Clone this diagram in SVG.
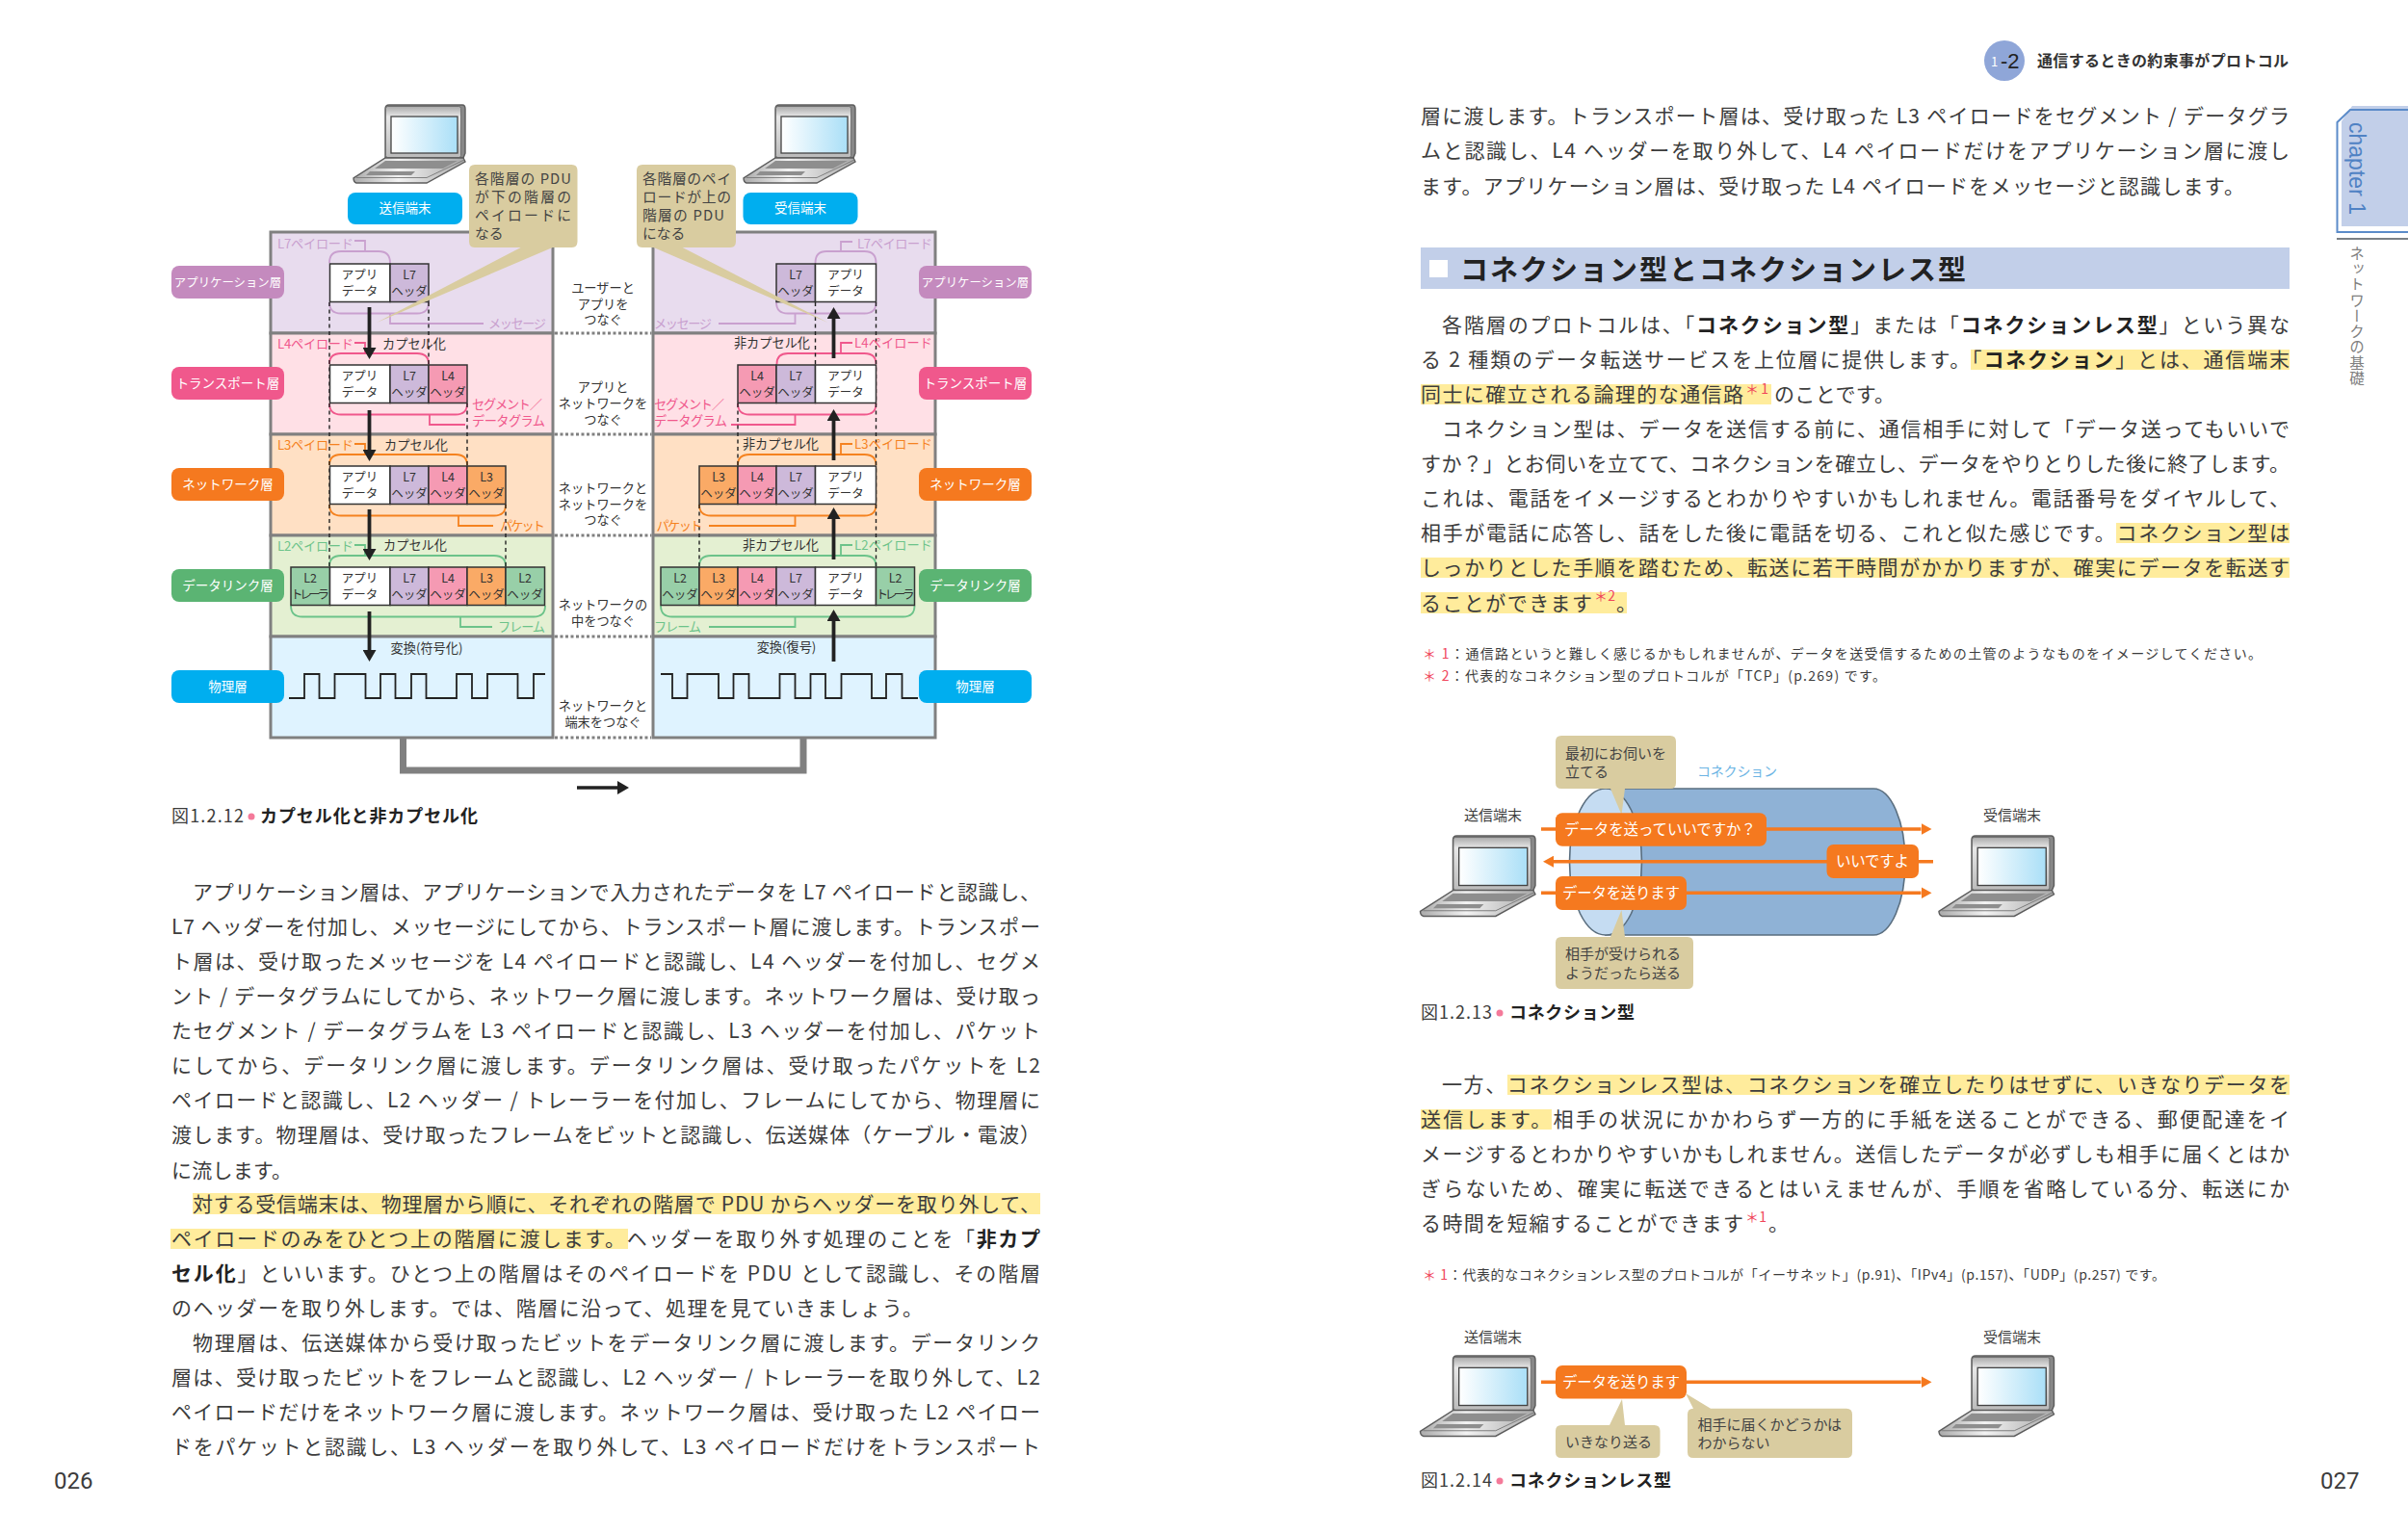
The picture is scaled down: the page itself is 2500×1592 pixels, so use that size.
<svg xmlns="http://www.w3.org/2000/svg" xmlns:xlink="http://www.w3.org/1999/xlink" width="2500" height="1592" viewBox="0 0 2500 1592">
<style>
text{font-family:"Noto Sans CJK JP","Noto Sans",sans-serif;fill:#3c3c3c}
.b{font-size:21px}
.s{font-weight:700;fill:#222}
.r{fill:#f0455a}
.sup{font-size:14px;fill:#f0455a}
.hl{fill:#ffec9c}
.fn{font-size:14px}
.cap{font-size:18px}
.capb{font-size:18px;font-weight:700;fill:#222}
.dot{fill:#f47a9a}
.pg{font-family:Roboto,"Noto Sans",sans-serif;font-size:24px;font-weight:400}
.panel{stroke:#808080;stroke-width:3}
.lab{font-size:13.5px;fill:#fff;text-anchor:middle}
.c{font-size:12.5px;text-anchor:middle;fill:#333}
.m{font-size:13.2px;text-anchor:middle;fill:#333}
.t{font-size:13.2px}
.cell{stroke:#333;stroke-width:1.5}
.dat{fill:#fff}.l7{fill:#cdb9da}.l4{fill:#f59ab3}.l3{fill:#faaa66}.l2{fill:#98cfa8}
.br{fill:none;stroke-width:1.8}
.pu{stroke:#c9a0cf}.pi{stroke:#f0588c}.or{stroke:#f5821f}.gr{stroke:#6cc38a}
.tpu{fill:#c9a0cf}.tpi{fill:#f0588c}.tor{fill:#f5821f}.tgr{fill:#6cc38a}
.da{fill:none;stroke:#222;stroke-width:1.4;stroke-dasharray:4 3.5}
.ar{fill:none;stroke:#222;stroke-width:3.8;marker-end:url(#ah)}
.dv{stroke:#808080;stroke-width:3;stroke-dasharray:3 2.5}
.tan{fill:#d9cca0}
.ct{font-size:15px;fill:#444}
.tc{font-size:14.8px;fill:#444}
.oar{fill:none;stroke:#f5791f;stroke-width:3.5;marker-end:url(#oh)}
.ob{fill:#f5791f}
.ot{font-size:15.5px;fill:#fff}
.wave{fill:none;stroke:#222;stroke-width:1.8}
</style>
<defs>
<marker id="ah" markerUnits="userSpaceOnUse" markerWidth="12" markerHeight="14" refX="0" refY="7" viewBox="0 0 12 14" orient="auto"><polygon points="0,0 12,7 0,14" fill="#222"/></marker>
<marker id="oh" markerUnits="userSpaceOnUse" markerWidth="11" markerHeight="12" refX="0" refY="6" viewBox="0 0 11 12" orient="auto"><polygon points="0,0 11,6 0,12" fill="#f5791f"/></marker>
<linearGradient id="scr" x1="0" x2="1" y1="0" y2="0"><stop offset="0" stop-color="#fff"/><stop offset="1" stop-color="#aadff7"/></linearGradient>
<linearGradient id="lid" x1="0" x2="0" y1="0" y2="1"><stop offset="0" stop-color="#aaa"/><stop offset=".2" stop-color="#e8e8e8"/><stop offset="1" stop-color="#bbb"/></linearGradient>
<linearGradient id="bas" x1="0" x2="1" y1="0" y2="0"><stop offset="0" stop-color="#aaa"/><stop offset=".4" stop-color="#f2f2f2"/><stop offset="1" stop-color="#a8a8a8"/></linearGradient>
<g id="laptop">
<path d="M33,4 Q33,0 37,0 H113 Q116,0 116,4 V50 L114,55 H33 Z" fill="#888" stroke="#5c5c5c" stroke-width="1.4"/>
<rect x="33.5" y="1.5" width="78" height="53" rx="2" fill="url(#lid)" stroke="#666" stroke-width=".8"/>
<rect x="39" y="12" width="69" height="38" fill="url(#scr)" stroke="#444" stroke-width="1.3"/>
<path d="M33,55 H114 L116,59 L76,81 H3 Q0,80 0,76 Z" fill="url(#bas)" stroke="#5c5c5c" stroke-width="1.4"/>
<path d="M33,58 H108 L93,66 H22 Z M17,69 H64 L60,73 H13 Z" fill="#8e8e8e"/>
<path d="M3,75.500 H76 L115,57" fill="none" stroke="#777" stroke-width=".9"/>
</g>
</defs>
<rect width="2500" height="1592" fill="#fff"/>

<g id="page-026-highlight">
<rect class="hl" x="200" y="1239" width="880" height="22"/>
<rect class="hl" x="177" y="1276" width="475" height="21"/>
</g>
<g id="page-026-text">
<text class="b" x="200" y="934" textLength="880">アプリケーション層は、アプリケーションで入力されたデータを L7 ペイロードと認識し、</text>
<text class="b" x="178" y="970" textLength="902">L7 ヘッダーを付加し、メッセージにしてから、トランスポート層に渡します。トランスポー</text>
<text class="b" x="178" y="1006" textLength="902">ト層は、受け取ったメッセージを L4 ペイロードと認識し、L4 ヘッダーを付加し、セグメ</text>
<text class="b" x="178" y="1042" textLength="902">ント / データグラムにしてから、ネットワーク層に渡します。ネットワーク層は、受け取っ</text>
<text class="b" x="178" y="1078" textLength="902">たセグメント / データグラムを L3 ペイロードと認識し、L3 ヘッダーを付加し、パケット</text>
<text class="b" x="178" y="1114" textLength="902">にしてから、データリンク層に渡します。データリンク層は、受け取ったパケットを L2</text>
<text class="b" x="178" y="1150" textLength="902">ペイロードと認識し、L2 ヘッダー / トレーラーを付加し、フレームにしてから、物理層に</text>
<text class="b" x="178" y="1186" textLength="902">渡します。物理層は、受け取ったフレームをビットと認識し、伝送媒体（ケーブル・電波）</text>
<text class="b" x="178" y="1222.500" textLength="125">に流します。</text>
<text class="b" x="200" y="1257.500" textLength="880">対する受信端末は、物理層から順に、それぞれの階層で PDU からヘッダーを取り外して、</text>
<text class="b" x="178" y="1293.500" textLength="902">ペイロードのみをひとつ上の階層に渡します。ヘッダーを取り外す処理のことを「<tspan class="s">非カプ</tspan></text>
<text class="b" x="178" y="1329.500" textLength="902"><tspan class="s">セル化</tspan>」といいます。ひとつ上の階層はそのペイロードを PDU として認識し、その階層</text>
<text class="b" x="178" y="1365.500" textLength="780">のヘッダーを取り外します。では、階層に沿って、処理を見ていきましょう。</text>
<text class="b" x="200" y="1401.500" textLength="880">物理層は、伝送媒体から受け取ったビットをデータリンク層に渡します。データリンク</text>
<text class="b" x="178" y="1437.500" textLength="902">層は、受け取ったビットをフレームと認識し、L2 ヘッダー / トレーラーを取り外して、L2</text>
<text class="b" x="178" y="1473.500" textLength="902">ペイロードだけをネットワーク層に渡します。ネットワーク層は、受け取った L2 ペイロー</text>
<text class="b" x="178" y="1509.500" textLength="902">ドをパケットと認識し、L3 ヘッダーを取り外して、L3 ペイロードだけをトランスポート</text>
<text class="pg" x="56" y="1546">026</text>
</g>

<g id="fig12-panels">
<rect class="panel" x="281" y="241" width="293" height="105" fill="#e8dcee"/>
<rect class="panel" x="281" y="346" width="293" height="105" fill="#ffe0e6"/>
<rect class="panel" x="281" y="451" width="293" height="105" fill="#ffe0c4"/>
<rect class="panel" x="281" y="556" width="293" height="105" fill="#e4f0d2"/>
<rect class="panel" x="281" y="661" width="293" height="105" fill="#dff3ff"/>
<rect class="panel" x="678" y="241" width="293" height="105" fill="#e8dcee"/>
<rect class="panel" x="678" y="346" width="293" height="105" fill="#ffe0e6"/>
<rect class="panel" x="678" y="451" width="293" height="105" fill="#ffe0c4"/>
<rect class="panel" x="678" y="556" width="293" height="105" fill="#e4f0d2"/>
<rect class="panel" x="678" y="661" width="293" height="105" fill="#dff3ff"/>
<path class="dv" d="M576,346H676M576,451H676M576,556H676M576,661H676M576,766H676"/>
<path d="M418.500,767V800H834V767" fill="none" stroke="#808080" stroke-width="7"/>
<path d="M599,818H641" fill="none" stroke="#222" stroke-width="3.500" marker-end="url(#ah)"/>
</g>

<g id="fig12-laptops">
<use xlink:href="#laptop" href="#laptop" transform="translate(367,109)"/>
<use xlink:href="#laptop" href="#laptop" transform="translate(772,109)"/>
</g>
<g id="node-send"><rect x="361" y="200" width="119" height="33" rx="8" fill="#00aeef"/><text class="lab" x="420.500" y="221">送信端末</text></g>
<g id="node-recv"><rect x="771.500" y="200" width="119" height="33" rx="8" fill="#00aeef"/><text class="lab" x="831" y="221">受信端末</text></g>

<g id="layer-labels-left">
<rect x="178" y="276" width="117" height="34" rx="8" fill="#c48abe"/><text class="lab" style="font-size:12.4px" x="236.500" y="297.500">アプリケーション層</text>
<rect x="178" y="381" width="117" height="34" rx="8" fill="#f0588c"/><text class="lab" x="236.500" y="403">トランスポート層</text>
<rect x="178" y="486" width="117" height="34" rx="8" fill="#f5791f"/><text class="lab" x="236.500" y="508">ネットワーク層</text>
<rect x="178" y="591" width="117" height="34" rx="8" fill="#5bb473"/><text class="lab" x="236.500" y="613">データリンク層</text>
<rect x="178" y="696" width="117" height="34" rx="8" fill="#00aeef"/><text class="lab" x="236.500" y="718">物理層</text>
</g>
<g id="layer-labels-right">
<rect x="954" y="276" width="117" height="34" rx="8" fill="#c48abe"/><text class="lab" style="font-size:12.4px" x="1012.500" y="297.500">アプリケーション層</text>
<rect x="954" y="381" width="117" height="34" rx="8" fill="#f0588c"/><text class="lab" x="1012.500" y="403">トランスポート層</text>
<rect x="954" y="486" width="117" height="34" rx="8" fill="#f5791f"/><text class="lab" x="1012.500" y="508">ネットワーク層</text>
<rect x="954" y="591" width="117" height="34" rx="8" fill="#5bb473"/><text class="lab" x="1012.500" y="613">データリンク層</text>
<rect x="954" y="696" width="117" height="34" rx="8" fill="#00aeef"/><text class="lab" x="1012.500" y="718">物理層</text>
</g>

<g id="middle-labels">
<text class="m" x="626" y="304">ユーザーと</text><text class="m" x="626" y="320.500">アプリを</text><text class="m" x="626" y="337">つなぐ</text>
<text class="m" x="626" y="407">アプリと</text><text class="m" x="626" y="424">ネットワークを</text><text class="m" x="626" y="441">つなぐ</text>
<text class="m" x="626" y="512">ネットワークと</text><text class="m" x="626" y="528.500">ネットワークを</text><text class="m" x="626" y="545">つなぐ</text>
<text class="m" x="626" y="633">ネットワークの</text><text class="m" x="626" y="650">中をつなぐ</text>
<text class="m" x="626" y="738">ネットワークと</text><text class="m" x="626" y="755">端末をつなぐ</text>
</g>

<g id="fig12-braces">
<path class="br pu" d="M342,273Q342,261 354,261H393Q405,261 405,273M342,314Q342,325.500 354,325.500H433Q445,325.500 445,314M405,325.500V336H502M368,250H379V261"/>
<path class="br pi" d="M342,378Q342,367 354,367H433Q445,367 445,378M342,419Q342,430.500 354,430.500H473Q485,430.500 485,419M446,430.500V441H483M368,356H379V367"/>
<path class="br or" d="M342,483Q342,472 354,472H473Q485,472 485,483M342,524Q342,535.500 354,535.500H513Q525,535.500 525,524M476,535.500V546H512M368,461H379V472"/>
<path class="br gr" d="M342,588Q342,577 354,577H513Q525,577 525,588M302,629Q302,640.500 314,640.500H554Q566,640.500 566,629M478,640.500V651H511M368,566H379V577"/>
<path class="br pu" d="M846.500,273Q846.500,261 858,261H897.500Q909.500,261 909.500,273M806,314Q806,325.500 818,325.500H897.500Q909.500,325.500 909.500,314M825.500,325.500V336H746M873,261V251H885"/>
<path class="br pi" d="M806.500,378Q806.500,367 818,367H897.500Q909.500,367 909.500,378M766,419Q766,430.500 778,430.500H897.500Q909.500,430.500 909.500,419M825.500,430.500V441H759M873,367V356H885"/>
<path class="br or" d="M766,483Q766,472 778,472H897.500Q909.500,472 909.500,483M726,524Q726,535.500 738,535.500H897.500Q909.500,535.500 909.500,524M825.500,535.500V546H736M873,472V461H885"/>
<path class="br gr" d="M726,588Q726,577 738,577H897.500Q909.500,577 909.500,588M686,629Q686,640.500 698,640.500H937.500Q949.500,640.500 949.500,629M825.500,640.500V651H736M873,577V566H885"/>
</g>
<g id="fig12-dashes">
<path class="da" d="M342,314V589M445,314V379M485,419V484M525,524V589"/>
<path class="da" d="M909.500,314V589M846.500,314V379M766,419V484M726,524V589"/>
</g>

<g id="fig12-brace-labels">
<text class="t tpu" x="288" y="258" textLength="79">L7ペイロード</text>
<text class="t tpu" x="507" y="341" textLength="60">メッセージ</text>
<text class="t tpi" x="288" y="362" textLength="79">L4ペイロード</text>
<text class="t tpi" x="490" y="425" textLength="73">セグメント／</text>
<text class="t tpi" x="490" y="442" textLength="76">データグラム</text>
<text class="t tor" x="288" y="467" textLength="79">L3ペイロード</text>
<text class="t tor" x="519" y="551" textLength="47">パケット</text>
<text class="t tgr" x="288" y="572" textLength="79">L2ペイロード</text>
<text class="t tgr" x="517" y="656" textLength="49">フレーム</text>
<text class="t tpu" x="890" y="258" textLength="78">L7ペイロード</text>
<text class="t tpu" x="679" y="341" textLength="60">メッセージ</text>
<text class="t tpi" x="887" y="361" textLength="81">L4ペイロード</text>
<text class="t tpi" x="679" y="425" textLength="73">セグメント／</text>
<text class="t tpi" x="679" y="442" textLength="76">データグラム</text>
<text class="t tor" x="887" y="466" textLength="81">L3ペイロード</text>
<text class="t tor" x="681.500" y="551" textLength="48">パケット</text>
<text class="t tgr" x="887" y="571" textLength="81">L2ペイロード</text>
<text class="t tgr" x="679" y="656" textLength="49">フレーム</text>
<text class="m" x="430" y="362">カプセル化</text>
<text class="m" x="432" y="467">カプセル化</text>
<text class="m" x="431" y="571">カプセル化</text>
<text class="m" x="443" y="678">変換(符号化)</text>
<text class="m" x="801.500" y="361">非カプセル化</text>
<text class="m" x="810.500" y="466">非カプセル化</text>
<text class="m" x="810.500" y="571">非カプセル化</text>
<text class="m" x="816.500" y="677">変換(復号)</text>
</g>

<g id="pdu-left-l7">
<rect class="cell dat" x="342.500" y="274" width="62.500" height="39.500"/><rect class="cell l7" x="405" y="274" width="40" height="39.500"/>
<text class="c" x="373.500" y="290">アプリ</text><text class="c" x="373.500" y="306.500">データ</text><text class="c" x="425" y="290">L7</text><text class="c" x="425" y="306.500">ヘッダ</text>
</g>
<g id="pdu-left-l4">
<rect class="cell dat" x="342.500" y="379" width="62.500" height="39.500"/><rect class="cell l7" x="405" y="379" width="40" height="39.500"/><rect class="cell l4" x="445" y="379" width="40" height="39.500"/>
<text class="c" x="373.500" y="395">アプリ</text><text class="c" x="373.500" y="411.500">データ</text><text class="c" x="425" y="395">L7</text><text class="c" x="425" y="411.500">ヘッダ</text><text class="c" x="465" y="395">L4</text><text class="c" x="465" y="411.500">ヘッダ</text>
</g>
<g id="pdu-left-l3">
<rect class="cell dat" x="342.500" y="484" width="62.500" height="39.500"/><rect class="cell l7" x="405" y="484" width="40" height="39.500"/><rect class="cell l4" x="445" y="484" width="40" height="39.500"/><rect class="cell l3" x="485" y="484" width="40" height="39.500"/>
<text class="c" x="373.500" y="500">アプリ</text><text class="c" x="373.500" y="516.500">データ</text><text class="c" x="425" y="500">L7</text><text class="c" x="425" y="516.500">ヘッダ</text><text class="c" x="465" y="500">L4</text><text class="c" x="465" y="516.500">ヘッダ</text><text class="c" x="505" y="500">L3</text><text class="c" x="505" y="516.500">ヘッダ</text>
</g>
<g id="pdu-left-l2">
<rect class="cell l2" x="302" y="589" width="40.500" height="39.500"/><rect class="cell dat" x="342.500" y="589" width="62.500" height="39.500"/><rect class="cell l7" x="405" y="589" width="40" height="39.500"/><rect class="cell l4" x="445" y="589" width="40" height="39.500"/><rect class="cell l3" x="485" y="589" width="40" height="39.500"/><rect class="cell l2" x="525" y="589" width="40.500" height="39.500"/>
<text class="c" x="322" y="605">L2</text><text class="c" x="322" y="621.500" textLength="40">トレーラ</text><text class="c" x="373.500" y="605">アプリ</text><text class="c" x="373.500" y="621.500">データ</text><text class="c" x="425" y="605">L7</text><text class="c" x="425" y="621.500">ヘッダ</text><text class="c" x="465" y="605">L4</text><text class="c" x="465" y="621.500">ヘッダ</text><text class="c" x="505" y="605">L3</text><text class="c" x="505" y="621.500">ヘッダ</text><text class="c" x="545" y="605">L2</text><text class="c" x="545" y="621.500">ヘッダ</text>
</g>
<g id="pdu-right-l7">
<rect class="cell l7" x="806" y="274" width="40.500" height="39.500"/><rect class="cell dat" x="846.500" y="274" width="63" height="39.500"/>
<text class="c" x="826" y="290">L7</text><text class="c" x="826" y="306.500">ヘッダ</text><text class="c" x="878" y="290">アプリ</text><text class="c" x="878" y="306.500">データ</text>
</g>
<g id="pdu-right-l4">
<rect class="cell l4" x="766" y="379" width="40" height="39.500"/><rect class="cell l7" x="806" y="379" width="40.500" height="39.500"/><rect class="cell dat" x="846.500" y="379" width="63" height="39.500"/>
<text class="c" x="786" y="395">L4</text><text class="c" x="786" y="411.500">ヘッダ</text><text class="c" x="826" y="395">L7</text><text class="c" x="826" y="411.500">ヘッダ</text><text class="c" x="878" y="395">アプリ</text><text class="c" x="878" y="411.500">データ</text>
</g>
<g id="pdu-right-l3">
<rect class="cell l3" x="726" y="484" width="40" height="39.500"/><rect class="cell l4" x="766" y="484" width="40" height="39.500"/><rect class="cell l7" x="806" y="484" width="40.500" height="39.500"/><rect class="cell dat" x="846.500" y="484" width="63" height="39.500"/>
<text class="c" x="746" y="500">L3</text><text class="c" x="746" y="516.500">ヘッダ</text><text class="c" x="786" y="500">L4</text><text class="c" x="786" y="516.500">ヘッダ</text><text class="c" x="826" y="500">L7</text><text class="c" x="826" y="516.500">ヘッダ</text><text class="c" x="878" y="500">アプリ</text><text class="c" x="878" y="516.500">データ</text>
</g>
<g id="pdu-right-l2">
<rect class="cell l2" x="686" y="589" width="40" height="39.500"/><rect class="cell l3" x="726" y="589" width="40" height="39.500"/><rect class="cell l4" x="766" y="589" width="40" height="39.500"/><rect class="cell l7" x="806" y="589" width="40.500" height="39.500"/><rect class="cell dat" x="846.500" y="589" width="63" height="39.500"/><rect class="cell l2" x="909.500" y="589" width="40" height="39.500"/>
<text class="c" x="706" y="605">L2</text><text class="c" x="706" y="621.500">ヘッダ</text><text class="c" x="746" y="605">L3</text><text class="c" x="746" y="621.500">ヘッダ</text><text class="c" x="786" y="605">L4</text><text class="c" x="786" y="621.500">ヘッダ</text><text class="c" x="826" y="605">L7</text><text class="c" x="826" y="621.500">ヘッダ</text><text class="c" x="878" y="605">アプリ</text><text class="c" x="878" y="621.500">データ</text><text class="c" x="929.500" y="605">L2</text><text class="c" x="929.500" y="621.500" textLength="40">トレーラ</text>
</g>

<g id="callout-left">
<path class="tan" d="M493,171H593.500Q599.500,171 599.500,177V251Q599.500,257 593.500,257H573.700L391,335L540.700,257H493Q487,257 487,251V177Q487,171 493,171Z"/>
<text class="tc" x="493" y="191" textLength="100">各階層の PDU</text>
<text class="tc" x="493" y="210" textLength="100">が下の階層の</text>
<text class="tc" x="493" y="229" textLength="100">ペイロードに</text>
<text class="tc" x="493" y="248">なる</text>
</g>
<g id="callout-right">
<path class="tan" d="M667,171H758Q764,171 764,177V251Q764,257 758,257H708.600L859.600,335L678.600,257H667Q661,257 661,251V177Q661,171 667,171Z"/>
<text class="tc" x="667" y="191" textLength="92">各階層のペイ</text>
<text class="tc" x="667" y="210" textLength="92">ロードが上の</text>
<text class="tc" x="667" y="229" textLength="85">階層の PDU</text>
<text class="tc" x="667" y="248">になる</text>
</g>

<g id="fig12-connectors">
<path class="ar" d="M383.500,319V361"/><path class="ar" d="M383.500,426V467"/><path class="ar" d="M383.500,529V570"/><path class="ar" d="M383.500,635V675"/>
<path class="ar" d="M865.500,372V331"/><path class="ar" d="M865.500,478V437"/><path class="ar" d="M865.500,581V539"/><path class="ar" d="M865.500,687V645"/>
<path class="wave" d="M300,725H316V700H331.500V725H347.500V700H379.500V725H395V700H410.500V725H427V700H442.500V725H474V700H490V725H506V700H537.500V725H554V700H566"/>
<path class="wave" d="M686,700H698V725H713.500V700H746V725H761.500V700H777.500V725H809.500V700H825.500V725H841.500V700H857V725H873.500V700H905V725H920V700H936.500V725H953"/>
</g>

<g id="fig12-caption">
<text class="cap" x="178" y="854" textLength="75">図1.2.12</text><circle class="dot" cx="261" cy="848" r="3.500"/><text class="capb" x="270" y="854" textLength="226">カプセル化と非カプセル化</text>
</g>

<g id="header">
<circle cx="2081" cy="63" r="21" fill="#8fa6d8"/>
<text x="2067" y="69" style="font-size:13px;fill:#fff">1</text>
<text x="2077" y="71" style="font-size:22px;fill:#222;font-family:'Liberation Sans',sans-serif">-2</text>
<text x="2115" y="69" textLength="261" style="font-size:16px;font-weight:700;fill:#333">通信するときの約束事がプロトコル</text>
</g>
<g id="chapter-tab">
<path d="M2431,126L2442,110H2500V235H2431Z" fill="#c2cfe9"/>
<path d="M2500,114H2440L2426.500,127V241H2500" fill="none" stroke="#5b8bc9" stroke-width="2"/>
<path d="M2426,248H2500" stroke="#7a8085" stroke-width="2"/>
<text transform="translate(2439,127) rotate(90)" style="font-size:23px;fill:#4f82c4;font-family:'Liberation Sans',sans-serif" textLength="96">chapter 1</text>
<text x="2447" y="255" style="font-size:15.500px;fill:#808080;writing-mode:vertical-rl;letter-spacing:.8px;text-anchor:start">ネットワークの基礎</text>
</g>

<g id="section-heading">
<rect x="1475" y="257" width="902" height="43" fill="#c2cfe9"/>
<rect x="1484" y="270" width="19" height="18" fill="#fff"/>
<text x="1516" y="290.500" textLength="525" style="font-size:29px;font-weight:700;fill:#222">コネクション型とコネクションレス型</text>
</g>

<g id="page-027-highlight">
<rect class="hl" x="2046" y="363" width="331" height="21"/>
<rect class="hl" x="1475" y="399" width="364" height="21"/>
<rect class="hl" x="2197" y="543" width="180" height="21"/>
<rect class="hl" x="1475" y="579" width="902" height="21"/>
<rect class="hl" x="1475" y="615" width="214" height="22"/>
<rect class="hl" x="1565" y="1116" width="812" height="21"/>
<rect class="hl" x="1475" y="1152" width="136" height="21"/>
</g>
<g id="page-027-text">
<text class="b" x="1475" y="127.500" textLength="902">層に渡します。トランスポート層は、受け取った L3 ペイロードをセグメント / データグラ</text>
<text class="b" x="1475" y="163.500" textLength="902">ムと認識し、L4 ヘッダーを取り外して、L4 ペイロードだけをアプリケーション層に渡し</text>
<text class="b" x="1475" y="200.500" textLength="855">ます。アプリケーション層は、受け取った L4 ペイロードをメッセージと認識します。</text>
<text class="b" x="1497" y="345" textLength="880">各階層のプロトコルは、「<tspan class="s">コネクション型</tspan>」または「<tspan class="s">コネクションレス型</tspan>」という異な</text>
<text class="b" x="1475" y="381" textLength="902">る 2 種類のデータ転送サービスを上位層に提供します。「<tspan class="s">コネクション</tspan>」とは、通信端末</text>
<text class="b" x="1475" y="417" textLength="335">同士に確立される論理的な通信路</text><text class="sup" x="1812" y="409" textLength="24">＊ 1</text><text class="b" x="1842" y="417" textLength="125">のことです。</text>
<text class="b" x="1497" y="452.500" textLength="880">コネクション型は、データを送信する前に、通信相手に対して「データ送ってもいいで</text>
<text class="b" x="1475" y="488.500" textLength="902">すか？」とお伺いを立てて、コネクションを確立し、データをやりとりした後に終了します。</text>
<text class="b" x="1475" y="524.500" textLength="902">これは、電話をイメージするとわかりやすいかもしれません。電話番号をダイヤルして、</text>
<text class="b" x="1475" y="560.500" textLength="902">相手が電話に応答し、話をした後に電話を切る、これと似た感じです。コネクション型は</text>
<text class="b" x="1475" y="597" textLength="902">しっかりとした手順を踏むため、転送に若干時間がかかりますが、確実にデータを転送す</text>
<text class="b" x="1475" y="633.500" textLength="178">ることができます</text><text class="sup" x="1655" y="624" textLength="22">＊ 2</text><text class="b" x="1678" y="633.500">。</text>
<text class="fn" x="1477" y="684" textLength="871"><tspan class="r">＊ 1</tspan>：通信路というと難しく感じるかもしれませんが、データを送受信するための土管のようなものをイメージしてください。</text>
<text class="fn" x="1477" y="707" textLength="481"><tspan class="r">＊ 2</tspan>：代表的なコネクション型のプロトコルが「TCP」(p.269) です。</text>
<text class="b" x="1497" y="1133.500" textLength="880">一方、コネクションレス型は、コネクションを確立したりはせずに、いきなりデータを</text>
<text class="b" x="1475" y="1169.500" textLength="902">送信します。相手の状況にかかわらず一方的に手紙を送ることができる、郵便配達をイ</text>
<text class="b" x="1475" y="1205.500" textLength="902">メージするとわかりやすいかもしれません。送信したデータが必ずしも相手に届くとはか</text>
<text class="b" x="1475" y="1241.500" textLength="902">ぎらないため、確実に転送できるとはいえませんが、手順を省略している分、転送にか</text>
<text class="b" x="1475" y="1277.500" textLength="335">る時間を短縮することができます</text><text class="sup" x="1812" y="1269" textLength="22">＊ 1</text><text class="b" x="1836" y="1277.500">。</text>
<text class="fn" x="1477" y="1329" textLength="771"><tspan class="r">＊ 1</tspan>：代表的なコネクションレス型のプロトコルが「イーサネット」(p.91)、「IPv4」(p.157)、「UDP」(p.257) です。</text>
<text class="pg" x="2409" y="1546">027</text>
</g>

<g id="fig13-pipe">
<path d="M1667,819H1945A33,76 0 0 1 1945,971H1667Z" fill="#8fb2d6" stroke="#5a6e7f" stroke-width="1.600"/>
<ellipse cx="1667" cy="895" rx="37.500" ry="76" fill="#c5dcf2" stroke="#5a6e7f" stroke-width="1.600"/>
<text x="1762" y="806" textLength="83" style="font-size:14px;fill:#6cb4e4">コネクション</text>
</g>
<g id="fig13-laptops">
<use xlink:href="#laptop" href="#laptop" transform="translate(1474.500,868) scale(1.03)"/>
<use xlink:href="#laptop" href="#laptop" transform="translate(2013,868) scale(1.03)"/>
<text x="1550" y="852" text-anchor="middle" style="font-size:15px">送信端末</text>
<text x="2089" y="852" text-anchor="middle" style="font-size:15px">受信端末</text>
</g>
<g id="fig13-connectors">
<path class="oar" d="M1600,861H1994.500"/>
<path class="oar" d="M2007,894.700H1613"/>
<path class="oar" d="M1600,927.300H1994.500"/>
</g>
<g id="fig13-callout-1">
<path class="tan" d="M1621,764H1734Q1740,764 1740,770V813Q1740,819 1734,819H1687L1683.500,846L1672,819H1621Q1615,819 1615,813V770Q1615,764 1621,764Z"/>
<text class="ct" x="1625" y="787.500">最初にお伺いを</text><text class="ct" x="1625" y="807">立てる</text>
</g>
<g id="fig13-callout-2">
<path class="tan" d="M1621,973H1672L1683.500,945L1687,973H1752Q1758,973 1758,979V1021Q1758,1027 1752,1027H1621Q1615,1027 1615,1021V979Q1615,973 1621,973Z"/>
<text class="ct" x="1625" y="996">相手が受けられる</text><text class="ct" x="1625" y="1015.500">ようだったら送る</text>
</g>
<g id="fig13-msg-1"><rect class="ob" x="1615" y="844.300" width="219" height="34.500" rx="7"/><text class="ot" x="1624" y="867" textLength="199">データを送っていいですか？</text></g>
<g id="fig13-msg-2"><rect class="ob" x="1896.500" y="877" width="95.500" height="35" rx="7"/><text class="ot" x="1906" y="900" textLength="76">いいですよ</text></g>
<g id="fig13-msg-3"><rect class="ob" x="1615" y="910" width="136" height="35" rx="7"/><text class="ot" x="1622" y="933" textLength="122">データを送ります</text></g>
<g id="fig13-caption">
<text class="cap" x="1475" y="1058" textLength="74">図1.2.13</text><circle class="dot" cx="1557" cy="1052" r="3.500"/><text class="capb" x="1567" y="1058" textLength="130">コネクション型</text>
</g>

<g id="fig14-laptops">
<use xlink:href="#laptop" href="#laptop" transform="translate(1474.500,1408) scale(1.03)"/>
<use xlink:href="#laptop" href="#laptop" transform="translate(2013,1408) scale(1.03)"/>
<text x="1550" y="1393.500" text-anchor="middle" style="font-size:15px">送信端末</text>
<text x="2089" y="1393.500" text-anchor="middle" style="font-size:15px">受信端末</text>
</g>
<g id="fig14-connectors"><path class="oar" d="M1600,1435.300H1994.500"/></g>
<g id="fig14-msg"><rect class="ob" x="1615" y="1418" width="136" height="34.500" rx="7"/><text class="ot" x="1622" y="1441" textLength="122">データを送ります</text></g>
<g id="fig14-callout-1">
<path class="tan" d="M1621,1480H1671L1684,1453L1687,1480H1717.500Q1723.500,1480 1723.500,1486V1508Q1723.500,1514 1717.500,1514H1621Q1615,1514 1615,1508V1486Q1615,1480 1621,1480Z"/>
<text class="ct" x="1625" y="1502.500">いきなり送る</text>
</g>
<g id="fig14-callout-2">
<path class="tan" d="M1758,1462.700H1758L1750,1447L1776,1462.700H1917Q1923,1462.700 1923,1468.700V1508Q1923,1514 1917,1514H1758Q1752,1514 1752,1508V1468.700Q1752,1462.700 1758,1462.700Z"/>
<text class="ct" x="1762.500" y="1484.500">相手に届くかどうかは</text><text class="ct" x="1762.500" y="1503.500">わからない</text>
</g>
<g id="fig14-caption">
<text class="cap" x="1475" y="1544" textLength="74">図1.2.14</text><circle class="dot" cx="1557" cy="1538" r="3.500"/><text class="capb" x="1567" y="1544" textLength="168">コネクションレス型</text>
</g>
</svg>
